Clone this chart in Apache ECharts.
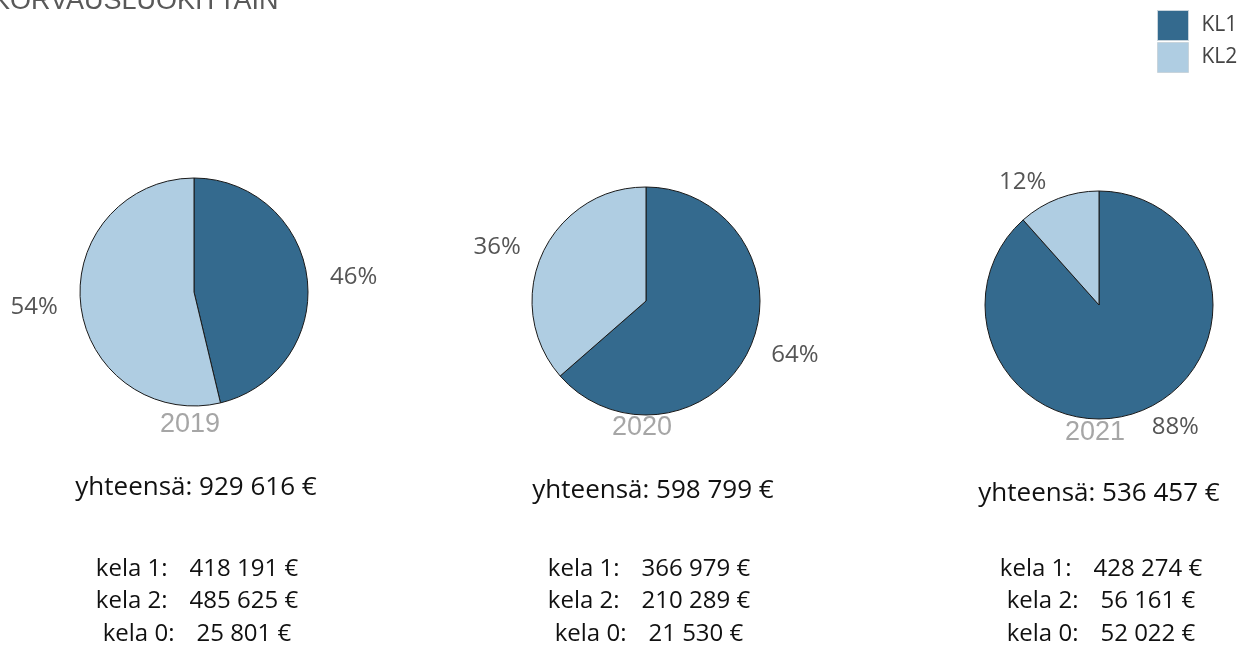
<!DOCTYPE html>
<html>
<head>
<meta charset="utf-8">
<script src="https://cdn.jsdelivr.net/npm/echarts@6/dist/echarts.min.js"></script>
<style>
  html, body { margin: 0; padding: 0; background: #fff; }
  #main { width: 1245px; height: 646px; }
</style>
</head>
<body>
<div id="main"></div>
<script>
  // data
  var years = ['2019', '2020', '2021'];
  var kela1 = [418191, 366979, 428274];   // KL1
  var kela2 = [485625, 210289, 56161];    // KL2
  var kela0 = [25801, 21530, 52022];
  var totals = [929616, 598799, 536457];
  var classNames = ['KL1', 'KL2'];

  var colors = ['#346a8e', '#afcde2'];
  var pieX = [194, 646, 1099];
  var pieY = [292, 301, 305];
  var textX = [196, 653, 1099];
  var rowX = [197, 649, 1101];
  var yearY = [425, 428, 433];
  var totalY = [488, 491, 494];

  function fmt(n) {
    return String(n).replace(/\B(?=(\d{3})+(?!\d))/g, ' ') + ' €';
  }

  var series = [];
  var graphic = [{
    type: 'text', left: -8, top: -12,
    style: { text: 'KORVAUSLUOKITTAIN', font: '27px "Liberation Sans"', fill: '#595959' }
  }];

  years.forEach(function (y, i) {
    series.push({
      type: 'pie',
      name: y,
      center: [pieX[i], pieY[i]],
      radius: 114,
      startAngle: 90,
      clockwise: true,
      percentPrecision: 0,
      avoidLabelOverlap: false,
      emphasis: { disabled: true },
      itemStyle: { borderColor: '#1a1a1a', borderWidth: 1 },
      label: {
        position: 'outside',
        formatter: '{d}%',
        fontFamily: 'Open Sans',
        fontSize: 24,
        color: '#555'
      },
      labelLine: { show: false, length: 17, length2: 1 },
      data: [
        { name: classNames[0], value: kela1[i] },
        { name: classNames[1], value: kela2[i] }
      ]
    });

    graphic.push({
      type: 'text', x: pieX[i] - 4, y: yearY[i],
      style: { text: y, font: '27px "Liberation Sans"', fill: '#a6a6a6', align: 'center', verticalAlign: 'middle' }
    });
    graphic.push({
      type: 'text', x: textX[i], y: totalY[i],
      style: { text: 'yhteensä: ' + fmt(totals[i]), font: '26px "Open Sans"', fill: '#111', align: 'center', verticalAlign: 'middle' }
    });

    var rows = [['kela 1:', kela1[i]], ['kela 2:', kela2[i]], ['kela 0:', kela0[i]]];
    rows.forEach(function (r, j) {
      graphic.push({
        type: 'text', x: rowX[i], y: 569 + j * 32.5,
        style: {
          text: '{a|' + r[0] + '}{b|' + fmt(r[1]) + '}',
          align: 'center', verticalAlign: 'middle',
          rich: {
            a: { fontFamily: 'Open Sans', fontSize: 24, fill: '#111' },
            b: { fontFamily: 'Open Sans', fontSize: 24, fill: '#111', padding: [0, 0, 0, 22] }
          }
        }
      });
    });
  });

  var chart = echarts.init(document.getElementById('main'));
  chart.setOption({
    animation: false,
    color: colors,
    legend: {
      data: classNames,
      orient: 'vertical',
      left: 1157,
      top: 10,
      padding: 0,
      itemWidth: 31,
      itemHeight: 30,
      itemGap: 1,
      icon: 'rect',
      itemStyle: { borderColor: '#c8d4dc', borderWidth: 1 },
      textStyle: { fontFamily: 'Open Sans', fontSize: 21, color: '#444', padding: [0, 0, 0, 8] }
    },
    series: series,
    graphic: graphic
  });
</script>
</body>
</html>
